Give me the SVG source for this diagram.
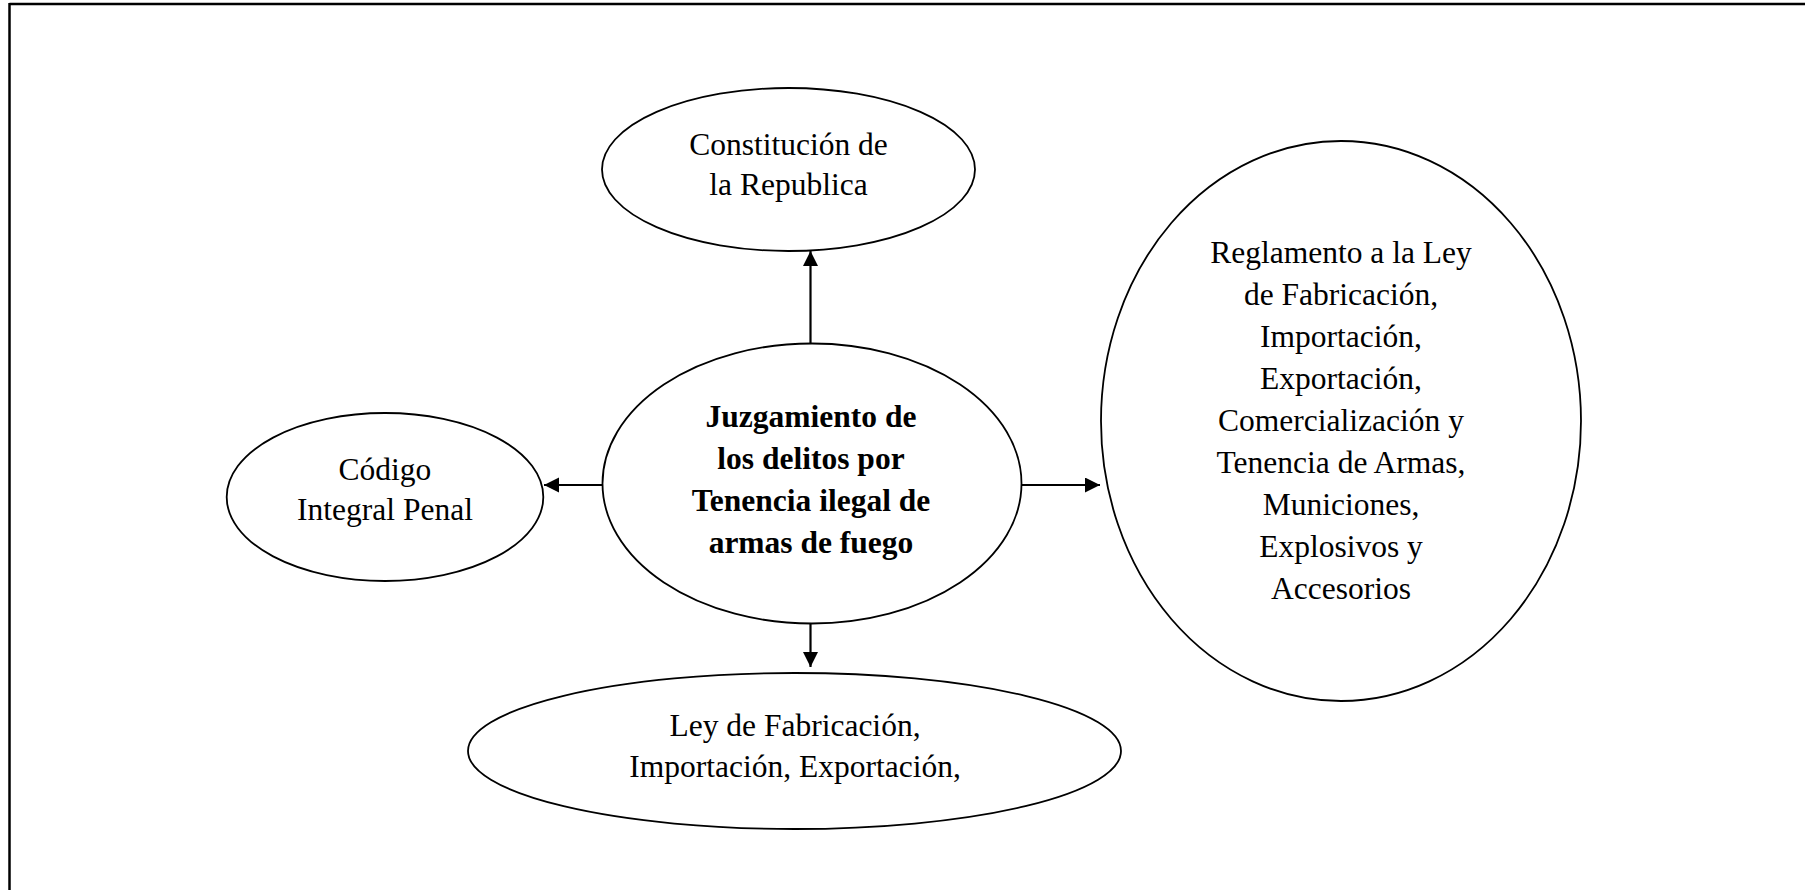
<svg xmlns="http://www.w3.org/2000/svg" width="1805" height="890" viewBox="0 0 1805 890">
<style>
.node ellipse{fill:#fff;stroke:#000;stroke-width:1.8}
.t{font-family:"Liberation Serif","Times New Roman",serif;font-size:31.5px;fill:#000;text-anchor:middle}
.b{font-weight:bold}
.conn line{stroke:#000;stroke-width:2.2}
</style>
<defs>
<marker id="ah" markerUnits="userSpaceOnUse" markerWidth="16" markerHeight="16" refX="15" refY="7.5" orient="auto">
<path d="M0,0 L15,7.5 L0,15 Z" fill="#000"/>
</marker>
</defs>
<rect x="0" y="0" width="1805" height="890" fill="#fff"/>
<g id="frame">
<line x1="9.5" y1="4" x2="1805" y2="4" stroke="#000" stroke-width="2.5"/>
<line x1="9.5" y1="3" x2="9.5" y2="890" stroke="#000" stroke-width="2.5"/>
</g>
<g id="connectors" class="conn">
<line x1="810.5" y1="344" x2="810.5" y2="251" marker-end="url(#ah)"/>
<line x1="603" y1="485" x2="544" y2="485" marker-end="url(#ah)"/>
<line x1="1021" y1="485" x2="1100" y2="485" marker-end="url(#ah)"/>
<line x1="810.5" y1="624" x2="810.5" y2="667" marker-end="url(#ah)"/>
</g>
<g id="n-constitucion" class="node">
<ellipse cx="788.5" cy="169.5" rx="186.5" ry="81.5"/>
<text class="t" x="788.5" y="155">Constitución de</text>
<text class="t" x="788.5" y="195">la Republica</text>
</g>
<g id="n-juzgamiento" class="node">
<ellipse cx="812" cy="483.5" rx="209.5" ry="140"/>
<text class="t b" x="811" y="427">Juzgamiento de</text>
<text class="t b" x="811" y="469">los delitos por</text>
<text class="t b" x="811" y="511">Tenencia ilegal de</text>
<text class="t b" x="811" y="553">armas de fuego</text>
</g>
<g id="n-codigo" class="node">
<ellipse cx="385" cy="497" rx="158.3" ry="84"/>
<text class="t" x="385" y="480">Código</text>
<text class="t" x="385" y="520">Integral Penal</text>
</g>
<g id="n-ley" class="node">
<ellipse cx="794.5" cy="751" rx="326.5" ry="78"/>
<text class="t" x="795" y="736">Ley de Fabricación,</text>
<text class="t" x="795" y="777">Importación, Exportación,</text>
</g>
<g id="n-reglamento" class="node">
<ellipse cx="1341" cy="421" rx="240" ry="280"/>
<text class="t" x="1341" y="262.5">Reglamento a la Ley</text>
<text class="t" x="1341" y="304.5">de Fabricación,</text>
<text class="t" x="1341" y="346.5">Importación,</text>
<text class="t" x="1341" y="388.5">Exportación,</text>
<text class="t" x="1341" y="430.5">Comercialización y</text>
<text class="t" x="1341" y="472.5">Tenencia de Armas,</text>
<text class="t" x="1341" y="514.5">Municiones,</text>
<text class="t" x="1341" y="556.5">Explosivos y</text>
<text class="t" x="1341" y="598.5">Accesorios</text>
</g>
</svg>
